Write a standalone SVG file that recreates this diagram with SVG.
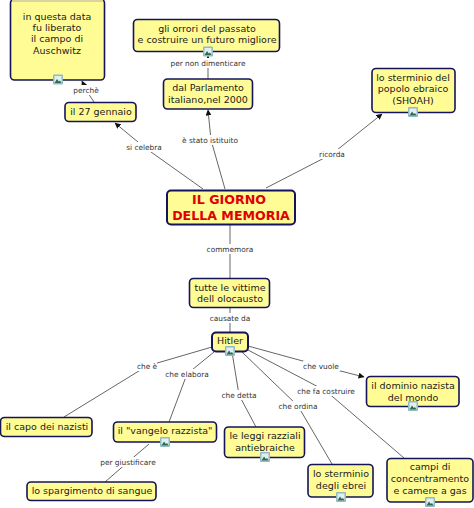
<svg xmlns="http://www.w3.org/2000/svg" width="474" height="508" viewBox="0 0 474 508">
<style>
text{font-family:"DejaVu Sans",Verdana,sans-serif;text-anchor:middle}
.n rect.b{fill:#fffb95;stroke:#14145a;stroke-width:1.6}
.n text{font-size:9.5px;fill:#1c1c1c}
.n text.t{font:bold 12.6px "DejaVu Sans",Verdana,sans-serif;fill:#e00000}
.l{font-size:7.4px;fill:#333}
.c polyline{stroke:#666;stroke-width:1;fill:none}
.lb{fill:#fff}
.ic{fill:#8fbcc4}
.ii{fill:#e4eeee}
.im{fill:#2f6a50}
</style>
<defs>
<marker id="a" markerWidth="7" markerHeight="6" refX="5.500" refY="3" orient="auto" markerUnits="userSpaceOnUse"><path d="M0 0L6 3L0 6z" fill="#111"/></marker>
<g id="icon"><rect class="ic" x="-5" y="-5" width="10" height="10" rx="1"/><rect class="ii" x="-3.500" y="-3.500" width="7" height="7"/><path class="im" d="M-3.500 3.500L-1 -0.500L0.800 2L2 1L3.500 3.500z"/></g>
</defs>
<rect width="474" height="508" fill="#fff"/>
<g class="c" id="connectors">
<polyline points="94,102 86,90 82,81" marker-end="url(#a)"/>
<polyline points="208,79 208,63 208,56" marker-end="url(#a)"/>
<polyline points="203,189 144,147 115,123" marker-end="url(#a)"/>
<polyline points="225,189 211,140 208,110" marker-end="url(#a)"/>
<polyline points="266,188 332,154 382,114" marker-end="url(#a)"/>
<polyline points="230,225 230,249 230,278"/>
<polyline points="230,307 230,318 230,332"/>
<polyline points="212,347 147,366 64,417"/>
<polyline points="214,352 187,374 169,422"/>
<polyline points="232,352 239,395 256,427"/>
<polyline points="242,352 298,406 332,464"/>
<polyline points="248,350 326,391 404,458"/>
<polyline points="248,346 321,366 364,377" marker-end="url(#a)"/>
<polyline points="149,444 128,462 105,482"/>
</g>
<g class="lbs">
<rect class="lb" x="73" y="85" width="26" height="10"/><text class="l" x="86" y="93">perchè</text>
<rect class="lb" x="170" y="58" width="76" height="10"/><text class="l" x="208" y="66">per non dimenticare</text>
<rect class="lb" x="126" y="142" width="36" height="10"/><text class="l" x="144" y="150">si celebra</text>
<rect class="lb" x="182" y="135" width="56" height="10"/><text class="l" x="210" y="143">è stato istituito</text>
<rect class="lb" x="319" y="149" width="26" height="10"/><text class="l" x="332" y="157">ricorda</text>
<rect class="lb" x="207" y="244" width="46" height="10"/><text class="l" x="230" y="252">commemora</text>
<rect class="lb" x="210" y="313" width="40" height="10"/><text class="l" x="230" y="321">causate da</text>
<rect class="lb" x="137" y="361" width="20" height="10"/><text class="l" x="147" y="369">che è</text>
<rect class="lb" x="165" y="369" width="44" height="10"/><text class="l" x="187" y="377">che elabora</text>
<rect class="lb" x="221" y="390" width="36" height="10"/><text class="l" x="239" y="398">che detta</text>
<rect class="lb" x="278" y="401" width="40" height="10"/><text class="l" x="298" y="409">che ordina</text>
<rect class="lb" x="297" y="386" width="58" height="10"/><text class="l" x="326" y="394">che fa costruire</text>
<rect class="lb" x="303" y="361" width="37" height="10"/><text class="l" x="321" y="369">che vuole</text>
<rect class="lb" x="100" y="457" width="56" height="10"/><text class="l" x="128" y="465">per giustificare</text>
</g>
<g class="n" id="n1"><rect class="b" x="10.500" y="-1" width="94" height="81" rx="4"/><rect x="12" y="0" width="91" height="2" fill="#d8d4a0"/><text x="57" y="20">in questa data</text><text x="57" y="31">fu liberato</text><text x="57" y="42">il campo di</text><text x="57" y="54">Auschwitz</text><use href="#icon" x="58" y="79.500"/></g>
<g class="n" id="n2"><rect class="b" x="133.500" y="19.500" width="146" height="32" rx="4"/><text x="207" y="32">gli orrori del passato</text><text x="207" y="43">e costruire un futuro migliore</text><use href="#icon" x="208" y="51.500"/></g>
<g class="n" id="n3"><rect class="b" x="163.500" y="79" width="89" height="30" rx="4"/><text x="208" y="91">dal Parlamento</text><text x="208" y="103">italiano,nel 2000</text></g>
<g class="n" id="n4"><rect class="b" x="65" y="102.500" width="71" height="19" rx="4"/><text x="101" y="115">il 27 gennaio</text></g>
<g class="n" id="n5"><rect class="b" x="372" y="68.500" width="83" height="44" rx="4"/><text x="413" y="81">lo sterminio del</text><text x="413" y="92">popolo ebraico</text><text x="413" y="104">(SHOAH)</text><use href="#icon" x="413" y="112"/></g>
<g class="n" id="n6"><rect class="b" x="167" y="190.500" width="128" height="34" rx="4" style="stroke-width:2"/><text class="t" x="229" y="204">IL GIORNO</text><text class="t" x="231" y="220">DELLA MEMORIA</text></g>
<g class="n" id="n7"><rect class="b" x="189.500" y="278.500" width="80" height="29" rx="4"/><text x="230" y="291">tutte le vittime</text><text x="230" y="302">dell olocausto</text></g>
<g class="n" id="n8"><rect class="b" x="212" y="332.500" width="36" height="19" rx="4" style="stroke-width:2"/><text x="230" y="344">Hitler</text><use href="#icon" x="230" y="351"/></g>
<g class="n" id="n9"><rect class="b" x="0.500" y="417.500" width="91.500" height="19" rx="4"/><text x="47" y="430">il capo dei nazisti</text></g>
<g class="n" id="n10"><rect class="b" x="113.500" y="422" width="103" height="20" rx="4"/><text x="165" y="434">il "vangelo razzista"</text><use href="#icon" x="165" y="442"/></g>
<g class="n" id="n11"><rect class="b" x="27" y="482" width="129" height="18.500" rx="4"/><text x="92" y="494">lo spargimento di sangue</text></g>
<g class="n" id="n12"><rect class="b" x="366.500" y="376.500" width="92.500" height="30" rx="4"/><text x="413" y="389">il dominio nazista</text><text x="413" y="401">del mondo</text><use href="#icon" x="413" y="406"/></g>
<g class="n" id="n13"><rect class="b" x="224.500" y="427" width="80" height="30.500" rx="4"/><text x="265" y="439">le leggi razziali</text><text x="265" y="451">antiebraiche</text><use href="#icon" x="265" y="457"/></g>
<g class="n" id="n14"><rect class="b" x="308" y="464.500" width="65" height="32.500" rx="4"/><text x="341" y="477">lo sterminio</text><text x="341" y="489">degli ebrei</text><use href="#icon" x="341" y="497"/></g>
<g class="n" id="n15"><rect class="b" x="387" y="458.500" width="86" height="43.500" rx="4"/><text x="430" y="470">campi di</text><text x="430" y="482">concentramento</text><text x="430" y="494">e camere a gas</text><use href="#icon" x="430" y="502"/></g>
</svg>
